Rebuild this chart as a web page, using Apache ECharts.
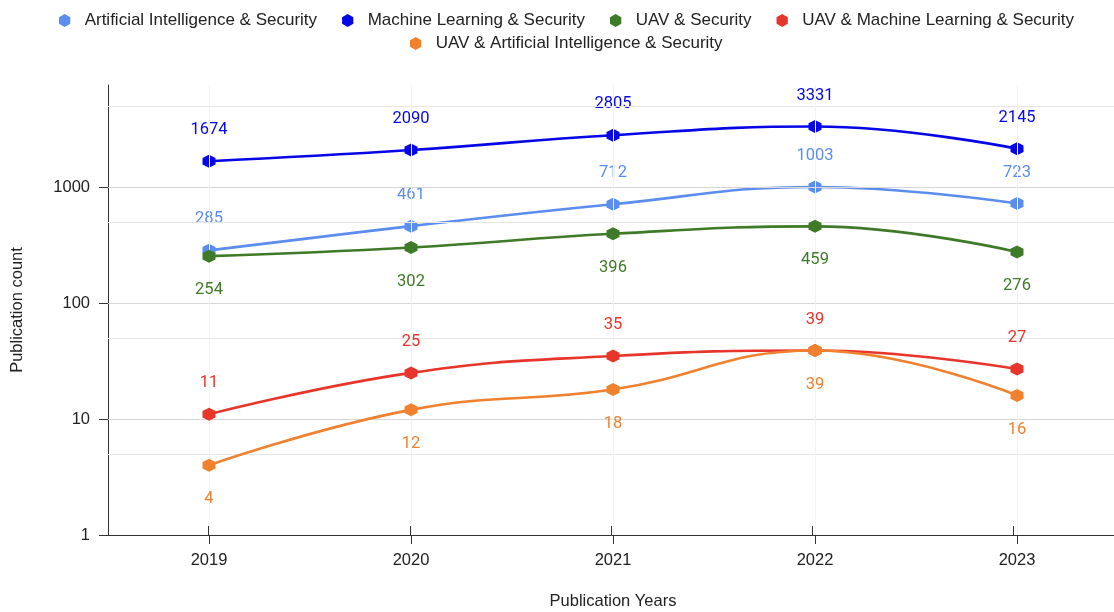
<!DOCTYPE html>
<html><head><meta charset="utf-8">
<script src="https://cdn.jsdelivr.net/npm/echarts@6/dist/echarts.min.js"></script>
<style>html,body{margin:0;padding:0;background:#fff}#c{width:1114px;height:612px}</style>
</head><body><div id="c"></div><script>
// ---- data ----
const years = ['2019', '2020', '2021', '2022', '2023'];
const seriesNames = [
  'Artificial Intelligence & Security',
  'Machine Learning & Security',
  'UAV & Security',
  'UAV & Machine Learning & Security',
  'UAV & Artificial Intelligence & Security'
];
const aiSecurity = [285, 461, 712, 1003, 723];
const mlSecurity = [1674, 2090, 2805, 3331, 2145];
const uavSecurity = [254, 302, 396, 459, 276];
const uavMlSecurity = [11, 25, 35, 39, 27];
const uavAiSecurity = [4, 12, 18, 39, 16];
const yTickValues = [1, 10, 100, 1000];
const yMajorGrid = [10, 100, 1000];
const yMinorGrid = [5, 50, 500, 5000];
const yMax = 7600;

// ---- styles ----
const colors = ['#5b8def', '#0606e6', '#3e7a28', '#e8352b', '#f0812f'];
const labelPos = ['top', 'top', 'bottom', 'top', 'bottom'];
const labelDist = [16, 16, 19, 16, 19];
const hex = 'path://M50,0 L93.3,25 L93.3,75 L50,100 L6.7,75 L6.7,25 Z';
const FONT = "'Liberation Sans', Arial, sans-serif";
const values = [aiSecurity, mlSecurity, uavSecurity, uavMlSecurity, uavAiSecurity];

const lineSeries = values.map((v, i) => ({
  name: seriesNames[i],
  type: 'line',
  data: v,
  smooth: 0.45,
  symbol: hex,
  symbolSize: 13,
  z: 3 + i,
  itemStyle: { color: colors[i] },
  lineStyle: { width: 2.6, color: colors[i] },
  label: {
    show: true, position: labelPos[i], distance: labelDist[i],
    color: colors[i], fontFamily: 'Roboto, sans-serif', fontSize: 16.5
  },
  emphasis: { disabled: true }
}));

const gridSeries = {
  type: 'line', data: [], silent: true, z: 1,
  markLine: {
    silent: true, symbol: 'none', animation: false,
    label: { show: false },
    data: [
      ...yMajorGrid.map(v => ({ yAxis: v, lineStyle: { color: '#d6d6d6', width: 1, type: 'solid' } })),
      ...yMinorGrid.map(v => ({ yAxis: v, lineStyle: { color: '#e6e6e6', width: 1, type: 'solid' } })),
      ...years.map(y => ({ xAxis: y, lineStyle: { color: '#f2f2f2', width: 1, type: 'solid' } }))
    ]
  }
};

const legendCommon = {
  icon: hex, itemWidth: 30, itemHeight: 13, itemGap: 25,
  textStyle: { fontFamily: FONT, fontSize: 17, color: '#222' }
};

const tickStyle = { color: '#333', width: 1 };

// tick-mark helper axes (in twin grids): a linear axis in decades spanning the log axis range
const decadeMax = Math.log10(yMax);
const decadeTicks = yTickValues.map(v => Math.log10(v));
const tickYAxis = (gi, inside) => ({
  gridIndex: gi, type: 'value', min: 0, max: decadeMax, position: 'left',
  axisLine: { show: false }, axisLabel: { show: false }, splitLine: { show: false },
  axisTick: { show: true, inside: inside, length: 9, customValues: decadeTicks, lineStyle: tickStyle }
});

const chart = echarts.init(document.getElementById('c'), null, { renderer: 'canvas' });
chart.setOption({
  animation: false,
  backgroundColor: '#fff',
  color: colors,
  legend: [
    Object.assign({ top: 7, left: 54, data: seriesNames.slice(0, 4) }, legendCommon),
    Object.assign({ top: 30, left: 405, data: seriesNames.slice(4) }, legendCommon)
  ],
  grid: [
    { left: 108, top: 85, width: 1010, height: 450, containLabel: false, outerBoundsMode: 'none' },
    { left: 108, top: 85, width: 1010, height: 450, containLabel: false },
    { left: 108, top: 85, width: 1010, height: 450, containLabel: false }
  ],
  xAxis: [{
    gridIndex: 0, type: 'category', data: years, boundaryGap: true,
    name: 'Publication Years', nameLocation: 'middle', nameGap: 58,
    nameTextStyle: { fontFamily: FONT, fontSize: 16.5, color: '#222' },
    axisLine: { show: true, lineStyle: { color: '#333', width: 1 } },
    axisTick: { show: true, alignWithLabel: true, length: 9, lineStyle: tickStyle },
    axisLabel: { fontFamily: FONT, fontSize: 16.5, color: '#222', margin: 17 },
    splitLine: { show: false }
  }, {
    gridIndex: 1, type: 'category', data: years, boundaryGap: true, position: 'bottom',
    axisLine: { show: false, onZero: false },
    axisTick: { show: true, inside: true, alignWithLabel: true, length: 9, lineStyle: tickStyle },
    axisLabel: { show: false }, splitLine: { show: false }
  }, {
    gridIndex: 2, type: 'category', data: years, show: false
  }],
  yAxis: [{
    gridIndex: 0, type: 'log', logBase: 10, min: 1, max: yMax,
    name: 'Publication count', nameLocation: 'middle', nameGap: 82, nameRotate: 90,
    nameTextStyle: { fontFamily: FONT, fontSize: 16.5, color: '#222' },
    axisLine: { show: true, lineStyle: { color: '#333', width: 1 } },
    axisTick: { show: false },
    axisLabel: { fontFamily: FONT, fontSize: 16.5, color: '#222', margin: 18, customValues: yTickValues,
      formatter: v => String(Math.round(v)) },
    splitLine: { show: false }
  }, tickYAxis(1, false), tickYAxis(2, true)],
  series: [gridSeries, ...lineSeries]
});
</script></body></html>
